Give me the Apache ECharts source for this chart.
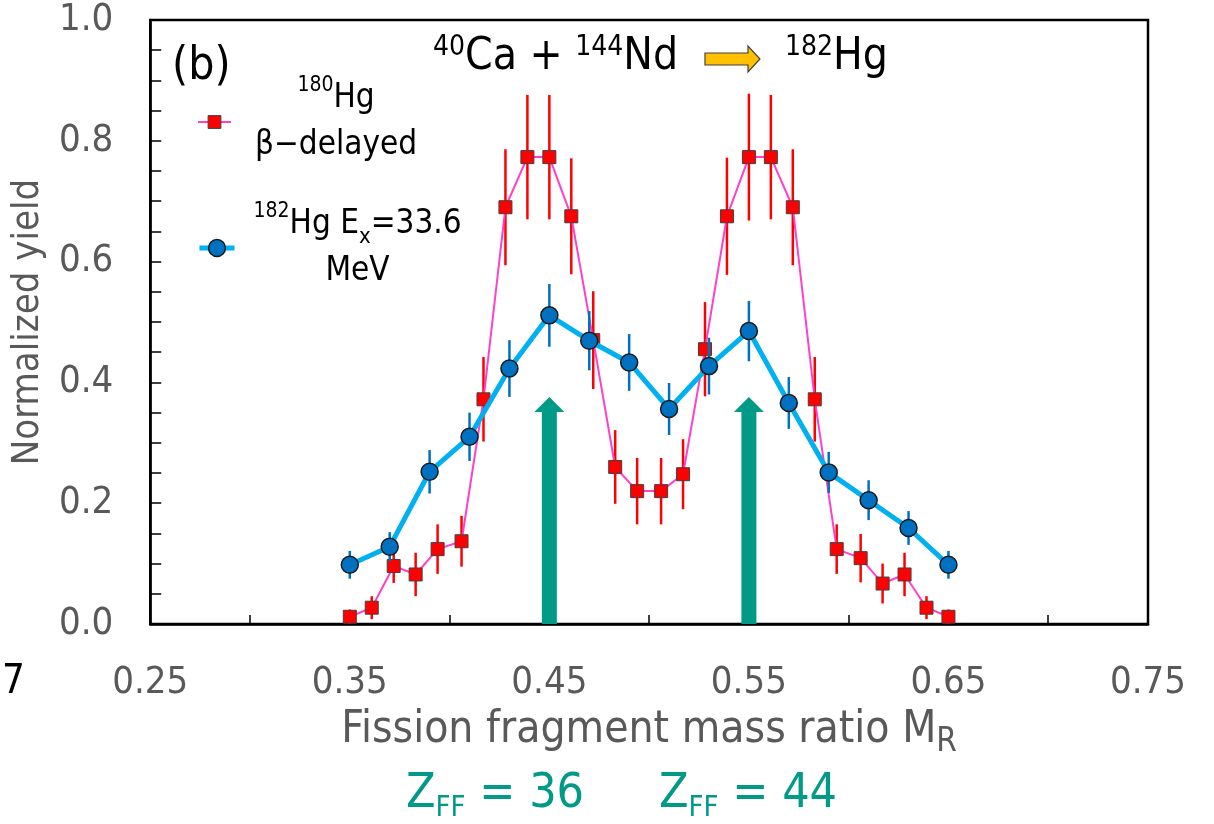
<!DOCTYPE html>
<html>
<head>
<meta charset="utf-8">
<script src="https://cdn.jsdelivr.net/npm/echarts@6/dist/echarts.min.js"></script>
<style>
html, body { margin: 0; padding: 0; background: #fff; }
#chart { width: 1214px; height: 824px; }
</style>
</head>
<body>
<div id="chart"></div>
<script>
// 180Hg beta-delayed fission (red squares)
const redX = [0.350, 0.361, 0.372, 0.383, 0.394, 0.406, 0.417, 0.428, 0.439, 0.450,
  0.461, 0.472, 0.483, 0.494, 0.506, 0.517, 0.528, 0.539, 0.550, 0.561,
  0.572, 0.583, 0.594, 0.606, 0.617, 0.628, 0.639, 0.650];
const redY = [0.012, 0.027, 0.096, 0.082, 0.124, 0.137, 0.372, 0.690, 0.773, 0.773,
  0.675, 0.470, 0.260, 0.220, 0.220, 0.248, 0.455, 0.675, 0.773, 0.773,
  0.690, 0.372, 0.124, 0.109, 0.067, 0.082, 0.027, 0.012];
const redErr = [0.012, 0.019, 0.028, 0.036, 0.041, 0.042, 0.070, 0.096, 0.103, 0.103,
  0.096, 0.081, 0.061, 0.055, 0.055, 0.058, 0.078, 0.097, 0.105, 0.103,
  0.096, 0.070, 0.041, 0.040, 0.033, 0.036, 0.019, 0.012];

// 182Hg Ex = 33.6 MeV (blue circles)
const blueX = [0.35, 0.37, 0.39, 0.41, 0.43, 0.45, 0.47, 0.49, 0.51, 0.53, 0.55, 0.57, 0.59, 0.61, 0.63, 0.65];
const blueY = [0.098, 0.128, 0.252, 0.310, 0.423, 0.511, 0.469, 0.433, 0.356, 0.427, 0.485, 0.366, 0.251, 0.205, 0.159, 0.098];
const blueErr = [0.023, 0.024, 0.036, 0.040, 0.047, 0.052, 0.049, 0.047, 0.043, 0.047, 0.050, 0.043, 0.034, 0.033, 0.028, 0.023];

// green arrows for Z_FF = 36 and Z_FF = 44
const arrowX = [0.45, 0.55];
const arrowTop = [0.376, 0.376];

const F = "'DejaVu Sans Condensed', Roboto, sans-serif";
const GRAY = '#595959';
const TEAL = '#009A87';

const chart = echarts.init(document.getElementById('chart'));

function errorBars(color) {
  return function (params, api) {
    const x = api.value(0), y = api.value(1), e = api.value(2);
    const p1 = api.coord([x, y - e]);
    const p2 = api.coord([x, y + e]);
    return {
      type: 'line',
      shape: { x1: p1[0], y1: p1[1], x2: p2[0], y2: p2[1] },
      style: { stroke: color, lineWidth: 2.5 }
    };
  };
}

function renderArrow(params, api) {
  const base = api.coord([api.value(0), 0]);
  const tip = api.coord([api.value(0), api.value(1)]);
  const sw = 7.5, hw = 15, hl = 15;
  const cx = base[0];
  return {
    type: 'polygon',
    shape: {
      points: [
        [cx - sw, base[1]], [cx - sw, tip[1] + hl], [cx - hw, tip[1] + hl],
        [cx, tip[1]],
        [cx + hw, tip[1] + hl], [cx + sw, tip[1] + hl], [cx + sw, base[1]]
      ]
    },
    style: { fill: TEAL }
  };
}

const legendText = {
  fontFamily: F,
  color: '#000',
  rich: {
    n: { fontFamily: F, fontSize: 33, lineHeight: 47, align: 'center', color: '#000' },
    s: { fontFamily: F, fontSize: 21, lineHeight: 30, verticalAlign: 'top', align: 'center', color: '#000' },
    b: { fontFamily: F, fontSize: 22, lineHeight: 14, verticalAlign: 'bottom', align: 'center', color: '#000' }
  }
};

const titleRich = {
  b: { fontFamily: F, fontSize: 44, lineHeight: 48, fontWeight: 'normal', color: '#000' },
  s: { fontFamily: F, fontSize: 28, lineHeight: 28, fontWeight: 'normal', verticalAlign: 'top', color: '#000' }
};

const option = {
  animation: false,
  backgroundColor: '#fff',
  title: [
    {
      text: '(b)', left: 172, top: 41, padding: 0,
      textStyle: { fontFamily: F, fontSize: 46, lineHeight: 52, fontWeight: 'normal', color: '#000' }
    },
    {
      text: '{s|40}{b|Ca + }{s|144}{b|Nd}', left: 433, top: 34, padding: 0,
      textStyle: { fontWeight: 'normal', rich: titleRich }
    },
    {
      text: '{s|182}{b|Hg}', left: 785, top: 34, padding: 0,
      textStyle: { fontWeight: 'normal', rich: titleRich }
    }
  ],
  graphic: [
    {
      type: 'polygon',
      shape: { points: [[705, 53], [748, 53], [748, 46], [760, 59], [748, 72], [748, 65], [705, 65]] },
      style: { fill: '#FFC000', stroke: '#404040', lineWidth: 1.2 }
    },
    {
      type: 'text', x: 2, y: 683,
      style: { text: '7', fontFamily: F, fontSize: 40, fill: '#000', verticalAlign: 'middle' }
    },
    {
      type: 'text', x: 495, y: 795,
      style: {
        text: '{z|Z}{f|FF}{z| = 36}', align: 'center', verticalAlign: 'middle',
        rich: {
          z: { fontFamily: F, fontSize: 48, lineHeight: 56, fill: TEAL },
          f: { fontFamily: F, fontSize: 29, lineHeight: 24, verticalAlign: 'bottom', fill: TEAL }
        }
      }
    },
    {
      type: 'text', x: 748, y: 795,
      style: {
        text: '{z|Z}{f|FF}{z| = 44}', align: 'center', verticalAlign: 'middle',
        rich: {
          z: { fontFamily: F, fontSize: 48, lineHeight: 56, fill: TEAL },
          f: { fontFamily: F, fontSize: 29, lineHeight: 24, verticalAlign: 'bottom', fill: TEAL }
        }
      }
    }
  ],
  legend: [
    {
      data: ['180Hg'], left: 197, top: 75, padding: 0, orient: 'vertical',
      itemWidth: 33, itemHeight: 16, selectedMode: false,
      lineStyle: { width: 'inherit' }, itemStyle: { borderWidth: 'inherit' },
      formatter: () => '{s|180}{n|Hg}\n{n|β−delayed}',
      textStyle: Object.assign({ padding: [0, 0, 0, 19] }, legendText)
    },
    {
      data: ['182Hg'], left: 197, top: 201, padding: 0, orient: 'vertical',
      itemWidth: 35, itemHeight: 21, selectedMode: false,
      lineStyle: { width: 'inherit' }, itemStyle: { borderWidth: 'inherit' },
      formatter: () => '{s|182}{n|Hg E}{b|x}{n|=33.6}\n{n|MeV}',
      textStyle: Object.assign({ padding: [0, 0, 0, 14] }, legendText)
    }
  ],
  grid: {
    left: 149, right: 66, top: 20, bottom: 200,
    show: true, borderColor: '#000', borderWidth: 2.5, backgroundColor: 'transparent'
  },
  xAxis: {
    type: 'value', min: 0.25, max: 0.75, interval: 0.1,
    name: '{a|Fission fragment mass ratio M}{r|R}',
    nameLocation: 'middle', nameGap: 79,
    nameTextStyle: {
      rich: {
        a: { fontFamily: F, fontSize: 44, lineHeight: 56, color: GRAY },
        r: { fontFamily: F, fontSize: 33, lineHeight: 30, verticalAlign: 'bottom', color: GRAY }
      }
    },
    axisLine: { show: true, onZero: false, lineStyle: { color: '#000', width: 2.5 } },
    axisTick: { show: false, inside: true },
    minorTick: { show: true, splitNumber: 2, length: 9, lineStyle: { color: '#000', width: 1.5 } },
    splitLine: { show: false },
    axisLabel: {
      margin: 40, fontFamily: F, fontSize: 38, lineHeight: 38, color: GRAY,
      formatter: v => v.toFixed(2)
    }
  },
  yAxis: {
    type: 'value', min: 0, max: 1, interval: 0.2,
    name: 'Normalized yield', nameLocation: 'middle', nameGap: 92,
    nameTextStyle: { fontFamily: F, fontSize: 38, lineHeight: 40, color: GRAY },
    axisLine: { show: true, lineStyle: { color: '#000', width: 2.5 } },
    axisTick: { show: true, inside: true, length: 11, lineStyle: { color: '#000', width: 1.5 } },
    minorTick: { show: true, splitNumber: 4, length: 11, lineStyle: { color: '#000', width: 1.5 } },
    splitLine: { show: false },
    axisLabel: {
      margin: 37, fontFamily: F, fontSize: 38, lineHeight: 38, color: GRAY,
      formatter: v => v.toFixed(1)
    }
  },
  series: [
    {
      type: 'custom', name: 'arrows', renderItem: renderArrow, silent: true,
      encode: { x: 0, y: 1 },
      data: arrowX.map((x, i) => [x, arrowTop[i]]),
      z: 1
    },
    {
      type: 'custom', name: 'redErr', renderItem: errorBars('#FF0000'), silent: true,
      encode: { x: 0, y: 1 },
      data: redX.map((x, i) => [x, redY[i], redErr[i]]),
      z: 2
    },
    {
      type: 'line', name: '180Hg',
      data: redX.map((x, i) => [x, redY[i]]),
      symbol: 'rect', symbolSize: 13, showAllSymbol: true,
      lineStyle: { color: '#FF40C8', width: 2 },
      itemStyle: { color: '#FF0000', borderColor: '#404040', borderWidth: 1 },
      z: 3
    },
    {
      type: 'custom', name: 'blueErr', renderItem: errorBars('#0070C0'), silent: true,
      encode: { x: 0, y: 1 },
      data: blueX.map((x, i) => [x, blueY[i], blueErr[i]]),
      z: 4
    },
    {
      type: 'line', name: '182Hg',
      data: blueX.map((x, i) => [x, blueY[i]]),
      symbol: 'circle', symbolSize: 17, showAllSymbol: true,
      lineStyle: { color: '#00B0F0', width: 5 },
      itemStyle: { color: '#0070C0', borderColor: '#1A1A1A', borderWidth: 1.5 },
      z: 5
    }
  ]
};

chart.setOption(option);
</script>
</body>
</html>
